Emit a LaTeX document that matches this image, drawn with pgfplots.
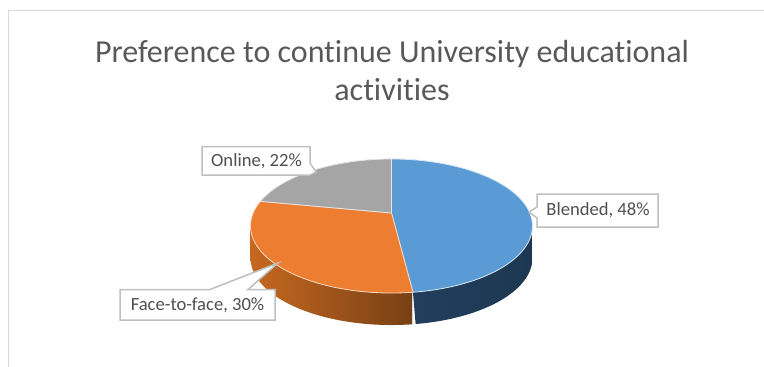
\documentclass[border=0pt]{standalone}
\usepackage{pgfplots}
\usepackage{pgfplotstable}
\usepackage{fontspec}
\setmainfont[RawFeature={-liga;-clig}]{Carlito}
\pgfplotsset{compat=1.18}
\definecolor{blended}{HTML}{5B9BD5}
\definecolor{faceface}{HTML}{ED7D31}
\definecolor{online}{HTML}{A5A5A5}
\definecolor{frameline}{HTML}{D9D9D9}
\definecolor{calloutline}{HTML}{BFBFBF}
\definecolor{titletext}{HTML}{595959}
\definecolor{labeltext}{HTML}{505050}
\definecolor{wallOA}{HTML}{C66820}
\definecolor{wallOB}{HTML}{A9561C}
\definecolor{wallOC}{HTML}{774014}
\definecolor{wallBA}{HTML}{223E5C}
\definecolor{wallBB}{HTML}{2C4C6E}
\definecolor{wallBC}{HTML}{1E3852}
\tikzset{labelstyle/.style={text=labeltext, font=\fontsize{18.6}{20}\selectfont, anchor=center}}

% Share of each preference, in percent
\pgfplotstableread{
share
48
30
22
}\prefshares
\pgfplotstablegetelem{0}{share}\of\prefshares\let\shareBlended\pgfplotsretval
\pgfplotstablegetelem{1}{share}\of\prefshares\let\shareFace\pgfplotsretval
\pgfplotstablegetelem{2}{share}\of\prefshares\let\shareOnline\pgfplotsretval
% Clockwise angles from the top of the disc at the slice boundaries
\pgfmathsetmacro{\angA}{3.6*\shareBlended}
\pgfmathsetmacro{\angB}{\angA+3.6*\shareFace}
\pgfmathsetmacro{\angC}{\angB+3.6*\shareOnline}

\begin{document}
\begin{tikzpicture}
\useasboundingbox (0,0) rectangle (764pt,367pt);
\begin{axis}[
  at={(0,0)}, anchor=south west,
  scale only axis, width=764pt, height=367pt,
  xmin=0, xmax=764, ymin=0, ymax=367, y dir=reverse,
  hide axis, clip=false,
  declare function={
    den(\a)=1+0.194*cos(\a);
    px(\a)=391.5+138.3*sin(\a)/den(\a);
    py(\a)=213-64.5*cos(\a)/den(\a);
    wa(\t,\p,\q)=(\t<=1)*(\p+(\q-\p)*\t)+(\t>1)*(\q-(\q-\p)*(\t-1));
    wy(\t)=(\t>1)*32;
  },
]
% Chart frame: top and left rules
\draw[frameline, line width=1.5pt] (8.5,367) -- (8.5,10.5) -- (764,10.5);

% Side walls of the disc
\addplot[draw=none, left color=wallOA, middle color=wallOB, right color=wallOC,
  variable=\t, domain=0:2, samples=161]
  ({px(wa(\t,\angA,259))},{py(wa(\t,\angA,259))+wy(\t)}) -- cycle;
\addplot[draw=none, left color=wallBA, middle color=wallBB, right color=wallBC,
  variable=\t, domain=0:2, samples=161]
  ({px(wa(\t,101,\angA))},{py(wa(\t,101,\angA))+wy(\t)}) -- cycle;
\draw[white!85!black, line width=0.8pt] (axis cs:412.4,292.5) -- (axis cs:412.4,325);

% Top face of the disc
\addplot[fill=blended, draw=white!75!blended, line width=0.8pt, variable=\t, domain=0:\angA, samples=90]
  ({px(\t)},{py(\t)}) -- (axis cs:391.5,213) -- cycle;
\addplot[fill=faceface, draw=white!70!faceface, line width=0.8pt, variable=\t, domain=\angA:\angB, samples=60]
  ({px(\t)},{py(\t)}) -- (axis cs:391.5,213) -- cycle;
\addplot[fill=online, draw=white!70!online, line width=0.8pt, variable=\t, domain=\angB:\angC, samples=50]
  ({px(\t)},{py(\t)}) -- (axis cs:391.5,213) -- cycle;

% Data label callouts
\draw[calloutline, fill=white, line width=1.5pt]
  (202,146.5) -- (310,146.5) -- (310,163) -- (316,172) -- (310,175) -- (202,175) -- cycle;
\node[labelstyle] at (256.5,161) {Online, 22\%};
\draw[calloutline, fill=white, line width=1.5pt]
  (537,194) -- (658,194) -- (658,227) -- (537,227) -- (537,218) -- (529,212) -- (537,207) -- cycle;
\node[labelstyle] at (598,210) {Blended, 48\%};
\draw[calloutline, fill=white, line width=1.5pt]
  (120,289.5) -- (210,289.5) -- (278,263) -- (248,289.5) -- (275,289.5) -- (275,320) -- (120,320) -- cycle;
\node[labelstyle] at (197.5,305.5) {Face-to-face, 30\%};

% Title
\node[text=titletext, font=\fontsize{32}{38}\selectfont, align=center, anchor=center] at (392,71)
  {Preference to continue University educational\\activities};
\end{axis}
\end{tikzpicture}
\end{document}
